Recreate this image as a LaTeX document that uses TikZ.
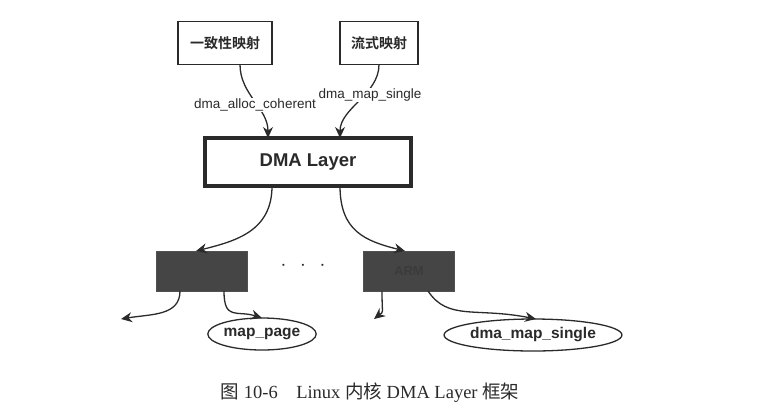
\documentclass[tikz,border=0pt]{standalone}
\usepackage{fontspec}
\setmainfont{Liberation Serif}
\setsansfont{Liberation Sans}
\newfontfamily\cjk{Noto Sans CJK SC}
\newfontfamily\cjkb{Noto Sans CJK SC Bold}
\usetikzlibrary{arrows.meta,shapes.geometric}
\definecolor{ink}{HTML}{2A2A2A}
\definecolor{darkfill}{HTML}{454545}
\begin{document}
\begin{tikzpicture}[x=1pt,y=-1pt,
  every node/.style={inner sep=0pt,outer sep=0pt},
  topbox/.style={draw=ink,line width=1.3pt,fill=white,minimum height=43pt,font=\cjkb\fontsize{14}{16}\selectfont,text=ink},
  layerbox/.style={draw=ink,line width=3.2pt,fill=white,minimum width=206pt,minimum height=48pt,font=\sffamily\bfseries\fontsize{18.5}{20}\selectfont,text=ink},
  archbox/.style={draw=darkfill!80!gray,line width=1pt,fill=darkfill,minimum width=91pt,minimum height=40pt,font=\sffamily\bfseries\fontsize{13}{15}\selectfont,text=darkfill!85!black},
  funcell/.style={ellipse,draw=ink,line width=1.3pt,fill=white,font=\sffamily\bfseries\fontsize{15.5}{17}\selectfont,text=ink},
  conn/.style={draw=ink,line width=1.3pt,-{Stealth[length=11pt,width=10pt]}},
  lbl/.style={font=\sffamily\fontsize{13.5}{15}\selectfont,text=ink,fill=white,inner sep=0.5pt}
]
\useasboundingbox (0,0) rectangle (770,416);
\node[topbox,minimum width=94pt] (coh) at (225,43) {一致性映射};
\node[topbox,minimum width=78pt] (str) at (379,43) {流式映射};
\node[layerbox] (dma) at (308,162) {DMA Layer};
\node[archbox] (a) at (202,271) {};
\node[archbox] (b) at (409,271) {ARM};
\node[font=\fontsize{20}{20}\selectfont,text=ink] (dots) at (303,266) {$\cdot\;\,\cdot\;\,\cdot$};
\node[funcell,minimum width=108pt,minimum height=32pt] (mp) at (262,334) {map\_page};
\node[funcell,minimum width=130pt,minimum height=32pt] (ms) at (533,335) {dma\_map\_single};
\coordinate (al) at (121,319);
\coordinate (bl) at (374,319);
% top connectors
\draw[conn] ([xshift=15pt]coh.south) .. controls +(0,30) and +(0,-30) .. ([xshift=-40pt]dma.north);
\draw[conn] (str.south) .. controls +(0,30) and +(0,-30) .. ([xshift=32pt]dma.north);
\node[lbl] (l1) at (255,105) {dma\_alloc\_coherent};
\node[lbl] (l2) at (370,95) {dma\_map\_single};
% layer to arch
\draw[conn] ([xshift=-36pt]dma.south) .. controls +(0,45) and +(40,-10) .. ([xshift=-6pt]a.north);
\draw[conn] ([xshift=32pt]dma.south) .. controls +(0,45) and +(-40,-10) .. ([xshift=-4pt]b.north);
% arch to funcs
\draw[conn] ([xshift=-22pt]a.south) .. controls +(0,25) and +(30,-5) .. (al);
\draw[conn] ([xshift=22pt]a.south) .. controls +(0,30) and +(-25,-8) .. (mp.north);
\draw[conn] ([xshift=-27pt]b.south) .. controls +(0,25) and +(10,-8) .. (bl);
\draw[conn] ([xshift=19pt]b.south) .. controls +(20,30) and +(-60,-12) .. ([xshift=3pt]ms.north);
% caption
\node[font=\fontsize{18.5}{20}\selectfont,text=ink] (cap) at (370,393) {{\cjk 图} 10-6\quad Linux {\cjk 内核} DMA Layer {\cjk 框架}};
\end{tikzpicture}
\end{document}
